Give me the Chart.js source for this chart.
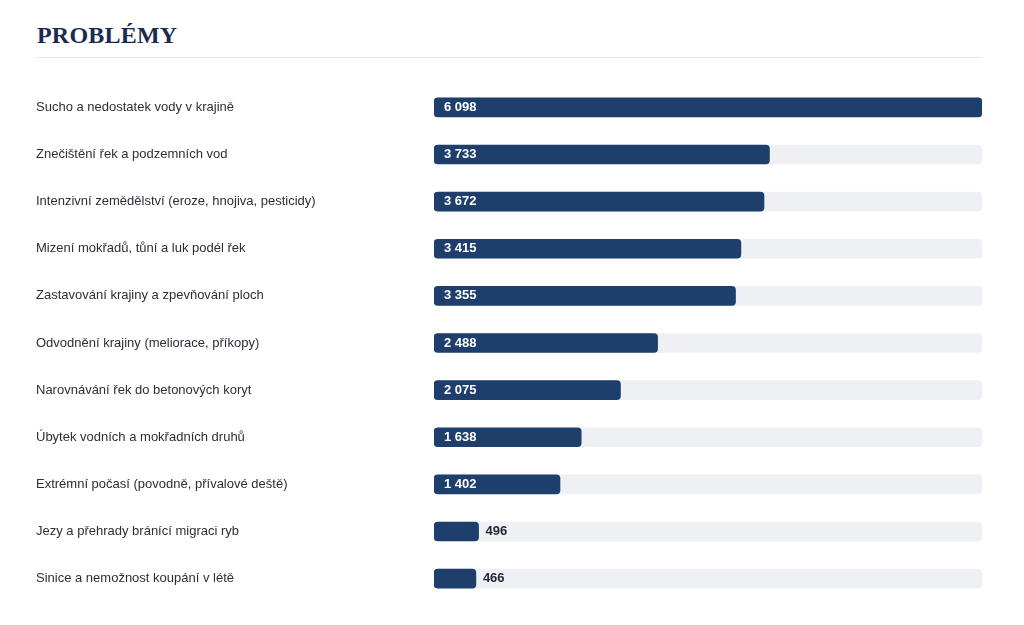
<!DOCTYPE html>
<html lang="cs">
<head>
<meta charset="utf-8">
<title>Problémy</title>
<script src="https://cdn.jsdelivr.net/npm/chart.js@4/dist/chart.umd.min.js"></script>
<style>
  html, body { margin: 0; padding: 0; background: #fff; }
  body { width: 1024px; height: 625px; position: relative; overflow: hidden; }
  .title {
    position: absolute; left: 37px; top: 21px; width: 945px;
    font-family: "Liberation Serif", "DejaVu Serif", serif;
    font-weight: bold; font-size: 24px; color: #1b2b4d;
    letter-spacing: 0.2px;
    padding-bottom: 7px;
    border-bottom: 1px solid #e3e5e8;
    line-height: 29px;
  }
  .wrap { position: absolute; left: 36px; top: 73px; width: 946px; height: 540px; }
</style>
</head>
<body>
<div class="title">PROBLÉMY</div>
<div class="wrap"><canvas id="problems-chart"></canvas></div>
<script>
const categories = [
    'Sucho a nedostatek vody v krajině',
    'Znečištění řek a podzemních vod',
    'Intenzivní zemědělství (eroze, hnojiva, pesticidy)',
    'Mizení mokřadů, tůní a luk podél řek',
    'Zastavování krajiny a zpevňování ploch',
    'Odvodnění krajiny (meliorace, příkopy)',
    'Narovnávání řek do betonových koryt',
    'Úbytek vodních a mokřadních druhů',
    'Extrémní počasí (povodně, přívalové deště)',
    'Jezy a přehrady bránící migraci ryb',
    'Sinice a nemožnost koupání v létě'
];
const votes = [6098, 3733, 3672, 3415, 3355, 2488, 2075, 1638, 1402, 496, 466];

const barColor = '#1e3e6c';
const trackColor = '#eef0f3';
const maxVotes = Math.max(...votes);

const formatNumber = (v) => String(v).replace(/\B(?=(\d{3})+(?!\d))/g, ' ');

// value labels: white inside the bar, dark next to it when the bar is short
const valueLabels = {
    id: 'valueLabels',
    afterDatasetsDraw(chart) {
        const ctx = chart.ctx;
        const meta = chart.getDatasetMeta(1);
        ctx.save();
        ctx.font = 'bold 13px "Liberation Sans", Arial, sans-serif';
        ctx.textBaseline = 'middle';
        ctx.textAlign = 'left';
        meta.data.forEach((bar, i) => {
            const text = formatNumber(votes[i]);
            const w = ctx.measureText(text).width;
            const barW = bar.x - bar.base;
            if (barW > w + 32) {
                ctx.fillStyle = '#ffffff';
                ctx.fillText(text, bar.base + 10, bar.y);
            } else {
                ctx.fillStyle = '#1f2633';
                ctx.fillText(text, bar.x + 7, bar.y);
            }
        });
        ctx.restore();
    }
};

const renderChart = () => {
    const ctx = document.getElementById('problems-chart').getContext('2d');

    new Chart(ctx, {
        type: 'bar',
        data: {
            labels: categories,
            datasets: [{
                data: votes.map(() => maxVotes),
                backgroundColor: trackColor,
                borderRadius: 4,
                borderSkipped: false,
                barThickness: 19,
                grouped: false,
                order: 2
            }, {
                data: votes,
                backgroundColor: barColor,
                borderRadius: 4,
                borderSkipped: false,
                barThickness: 19,
                grouped: false,
                order: 1
            }]
        },
        options: {
            indexAxis: 'y',
            responsive: true,
            maintainAspectRatio: false,
            animation: false,
            layout: { padding: 0 },
            plugins: {
                legend: { display: false },
                tooltip: { enabled: false },
                title: { display: false }
            },
            scales: {
                x: {
                    display: false,
                    min: 0,
                    max: maxVotes
                },
                y: {
                    grid: { display: false },
                    border: { display: false },
                    afterFit: (scale) => { scale.width = 398; },
                    ticks: {
                        crossAlign: 'far',
                        color: '#2b2f36',
                        font: { family: '"Liberation Sans", Arial, sans-serif', size: 13 }
                    }
                }
            }
        },
        plugins: [valueLabels]
    });
};

document.addEventListener('DOMContentLoaded', () => {
    renderChart();
});
</script>
</body>
</html>
